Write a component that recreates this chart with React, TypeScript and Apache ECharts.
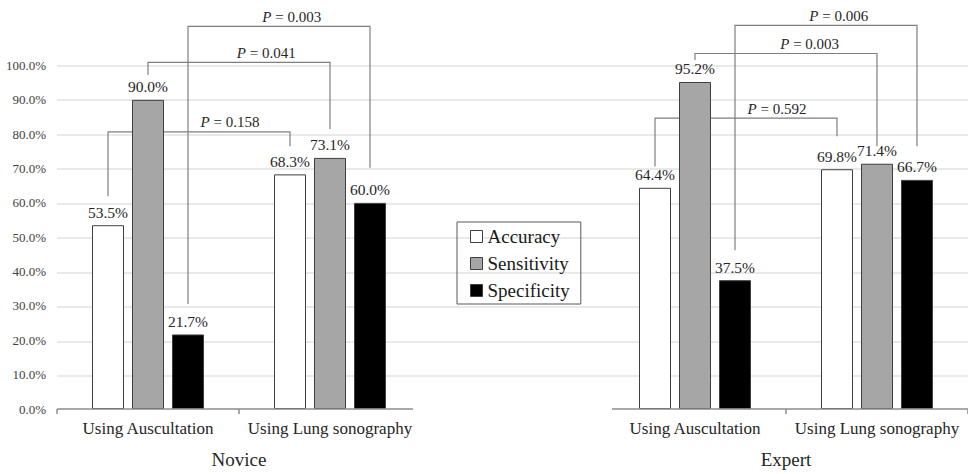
import React, { useEffect, useRef } from "react";
import * as echarts from "echarts";

// ---- data ----
const categories = ["Using Auscultation", "Using Lung sonography"];
const seriesNames = ["Accuracy", "Sensitivity", "Specificity"];

const noviceAccuracy = [53.5, 68.3];
const noviceSensitivity = [90.0, 73.1];
const noviceSpecificity = [21.7, 60.0];

const expertAccuracy = [64.4, 69.8];
const expertSensitivity = [95.2, 71.4];
const expertSpecificity = [37.5, 66.7];

const yTicks = [0, 10, 20, 30, 40, 50, 60, 70, 80, 90, 100];

// P-value brackets: series index compared between the two categories
const novicePValues = ["0.158", "0.041", "0.003"];
const noviceBracketSeries = [0, 1, 2];
const noviceBracketLeft = [61.9, 97.2, 30.6];
const noviceBracketTop = [80.7, 100.9, 111.4];
const noviceBracketRight = [76.5, 81.5, 70.2];
const noviceLabelFrac = [0.67, 0.65, 0.57];

const expertPValues = ["0.592", "0.003", "0.006"];
const expertBracketSeries = [0, 1, 2];
const expertBracketLeft = [70.7, 101.6, 46.2];
const expertBracketTop = [84.7, 103.5, 111.7];
const expertBracketRight = [79.4, 76.5, 76.5];
const expertLabelFrac = [0.67, 0.63, 0.57];

// ---- styles ----
const FONT = "Liberation Serif";
const TEXT = "#262626";
const BAR_W = 32;
const BAR_STEP = 40;
const fills = ["#ffffff", "#a6a6a6", "#000000"];
const BORDER = "#3f3f3f";
const AXIS_COLOR = "#8c8c8c";

function makeBars(values: number[][], axisIdx: number) {
  return values.map((vals, i) => ({
    name: seriesNames[i],
    type: "bar",
    xAxisIndex: axisIdx,
    yAxisIndex: axisIdx,
    data: vals,
    barWidth: BAR_W,
    barGap: "25%",
    z: 3,
    itemStyle: { color: fills[i], borderColor: BORDER, borderWidth: 1 },
    label: {
      show: true,
      position: "top",
      distance: 5,
      fontFamily: FONT,
      fontSize: 15.5,
      color: TEXT,
      formatter: (p: any) => p.value.toFixed(1) + "%",
    },
  }));
}

// category axis baseline with ticks, drawn through the axis scale
function makeBaseline(axisIdx: number, trimLeft: number, trimRight: number, tickLeft: boolean, tickRight: boolean) {
  return {
    type: "custom",
    xAxisIndex: axisIdx,
    yAxisIndex: axisIdx,
    clip: false,
    z: 4,
    silent: true,
    data: [[0, 0]],
    renderItem: (params: any, api: any) => {
      const half = api.size([1, 0])[0] / 2;
      const c0 = api.coord([0, 0]);
      const c1 = api.coord([1, 0]);
      const y0 = c0[1];
      const xs = c0[0] - half;
      const xm = c0[0] + half;
      const xe = c1[0] + half;
      const st = { stroke: AXIS_COLOR, lineWidth: 1.5 };
      const children: any[] = [
        { type: "line", shape: { x1: xs + trimLeft, y1: y0, x2: xe - trimRight, y2: y0 }, style: st },
        { type: "line", shape: { x1: xm, y1: y0, x2: xm, y2: y0 + 5 }, style: st },
      ];
      if (tickLeft) children.push({ type: "line", shape: { x1: xs, y1: y0, x2: xs, y2: y0 + 5 }, style: st });
      if (tickRight) children.push({ type: "line", shape: { x1: xe, y1: y0, x2: xe, y2: y0 + 5 }, style: st });
      return { type: "group", children };
    },
  };
}

function makeBrackets(
  axisIdx: number,
  pv: string[],
  ser: number[],
  left: number[],
  top: number[],
  right: number[],
  frac: number[]
) {
  return {
    type: "custom",
    xAxisIndex: axisIdx,
    yAxisIndex: axisIdx,
    clip: false,
    z: 1,
    silent: true,
    data: pv.map(() => [0, 0]),
    renderItem: (params: any, api: any) => {
      const i = params.dataIndex;
      const s = ser[i];
      const x1 = api.coord([0, 0])[0] + (s - 1) * BAR_STEP;
      const x2 = api.coord([1, 0])[0] + (s - 1) * BAR_STEP;
      const y = (v: number) => api.coord([0, v])[1];
      const yt = y(top[i]);
      return {
        type: "group",
        children: [
          {
            type: "polyline",
            shape: {
              points: [
                [x1, y(left[i])],
                [x1, yt],
                [x2, yt],
                [x2, y(right[i])],
              ],
            },
            style: { stroke: "#7f7f7f", lineWidth: 1.2, fill: null },
          },
          {
            type: "text",
            x: x1 + (x2 - x1) * frac[i],
            y: yt - 2,
            style: {
              text: "{i|P}{n| = " + pv[i] + "}",
              align: "center",
              verticalAlign: "bottom",
              fontFamily: FONT,
              fontSize: 15,
              fill: TEXT,
              rich: {
                i: { fontStyle: "italic", fontFamily: FONT, fontSize: 15, fill: TEXT },
                n: { fontFamily: FONT, fontSize: 15, fill: TEXT },
              },
            },
          },
        ],
      };
    },
  };
}

export default function App() {
  const ref = useRef<HTMLDivElement>(null);
  useEffect(() => {
    if (!ref.current) return;
    const chart = echarts.init(ref.current, undefined, { renderer: "svg" });
    const catAxis = (gridIndex: number, name: string) => ({
      type: "category",
      gridIndex,
      data: categories,
      name,
      nameLocation: "middle",
      nameGap: 41,
      nameTextStyle: { fontFamily: FONT, fontSize: 19, color: TEXT },
      axisLine: { show: false },
      axisTick: { show: false },
      axisLabel: { interval: 0, fontFamily: FONT, fontSize: 17, color: TEXT, margin: 11 },
    });
    const option: any = {
      animation: false,
      backgroundColor: "#ffffff",
      textStyle: { fontFamily: FONT },
      legend: {
        data: seriesNames.map((n, i) => ({
          name: n,
          icon: "rect",
          itemStyle: { color: fills[i], borderColor: BORDER, borderWidth: 1 },
        })),
        orient: "vertical",
        left: 457,
        top: 222,
        padding: [5, 11, 4, 13],
        itemGap: 8,
        itemWidth: 12,
        itemHeight: 12,
        selectedMode: false,
        borderColor: "#595959",
        borderWidth: 1,
        textStyle: { fontFamily: FONT, fontSize: 19, color: "#1a1a1a", lineHeight: 19 },
      },
      grid: [
        { left: 57, top: 65.5, width: 364, height: 345 },
        { left: 604, top: 65.5, width: 364, height: 345 },
        { left: 57, top: 65.5, width: 911, height: 310.5 },
      ],
      xAxis: [
        catAxis(0, "Novice"),
        catAxis(1, "Expert"),
        { type: "value", gridIndex: 2, show: false, min: 0, max: 1 },
      ],
      yAxis: [
        {
          type: "value",
          gridIndex: 0,
          min: yTicks[0],
          max: yTicks[yTicks.length - 1],
          interval: 10,
          splitLine: { show: false },
          axisLine: { show: false },
          axisTick: { show: false },
          axisLabel: {
            fontFamily: FONT,
            fontSize: 13,
            color: "#404040",
            margin: 11,
            formatter: (v: number) => v.toFixed(1) + "%",
          },
        },
        {
          type: "value",
          gridIndex: 1,
          min: 0,
          max: 100,
          interval: 10,
          show: false,
          splitLine: { show: false },
        },
        {
          type: "value",
          gridIndex: 2,
          min: 10,
          max: 100,
          interval: 10,
          axisLine: { show: false },
          axisTick: { show: false },
          axisLabel: { show: false },
          splitLine: { show: true, lineStyle: { color: "#e2e2e2", width: 1.5 } },
        },
      ],
      series: [
        makeBrackets(0, novicePValues, noviceBracketSeries, noviceBracketLeft, noviceBracketTop, noviceBracketRight, noviceLabelFrac),
        makeBrackets(1, expertPValues, expertBracketSeries, expertBracketLeft, expertBracketTop, expertBracketRight, expertLabelFrac),
        ...makeBars([noviceAccuracy, noviceSensitivity, noviceSpecificity], 0),
        ...makeBars([expertAccuracy, expertSensitivity, expertSpecificity], 1),
        makeBaseline(0, 0, 8, true, false),
        makeBaseline(1, 8, 0, false, true),
      ],
    };
    chart.setOption(option);
    return () => chart.dispose();
  }, []);
  return (
    <div
      ref={ref}
      style={{ position: "fixed", left: 0, top: 0, width: 968, height: 474, background: "#fff" }}
    />
  );
}
